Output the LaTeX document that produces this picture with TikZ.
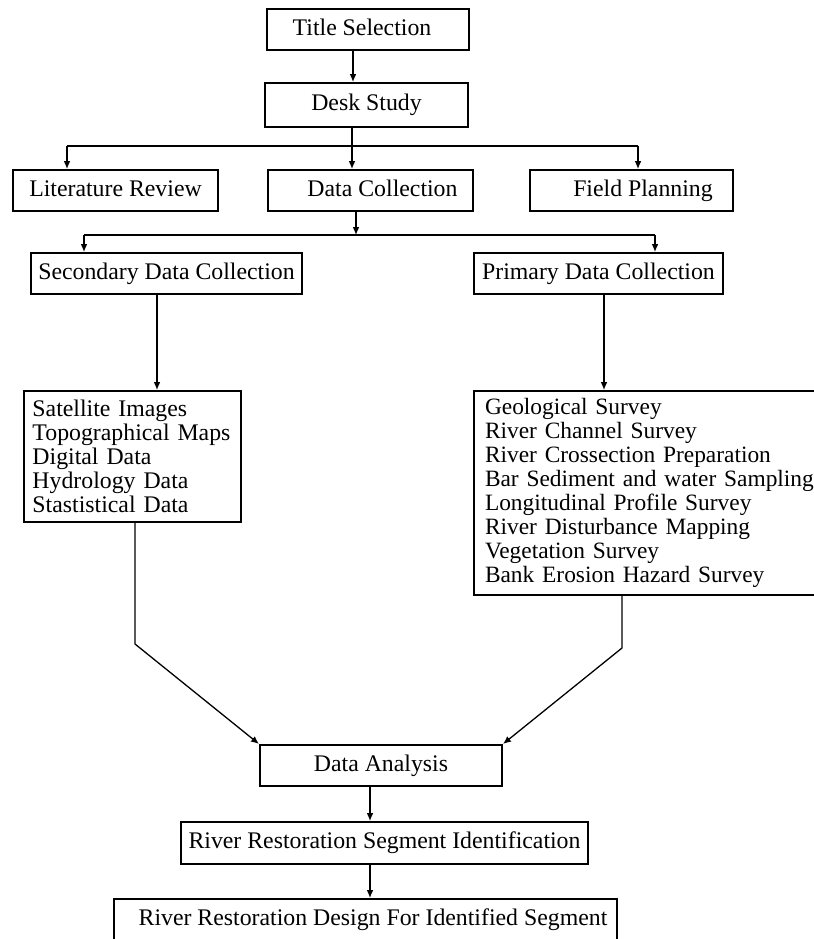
\documentclass[tikz,border=0pt]{standalone}
\usepackage{fontspec}
\setmainfont{Liberation Serif}
\usetikzlibrary{shapes,arrows.meta}

\tikzset{
  box/.style={draw, rectangle, line width=1pt, inner sep=0pt,
    font=\fontsize{11.9pt}{12.05pt}\selectfont},
  stage/.style={box, text height=8.2pt, text depth=2.6pt},
  listbox/.style={box, anchor=north west, align=left},
  arr/.style={-{Latex[length=4pt,width=3.4pt]}, line width=0.65pt},
  link/.style={line width=0.65pt}
}

\begin{document}
\begin{tikzpicture}[x=0.5pt, y=-0.5pt] % one unit = one pixel of the scan
\useasboundingbox (0,0) rectangle (814,939);
\clip (0,0) rectangle (814,939);

% top of the chart
\node[stage, minimum width=101pt, minimum height=20.5pt] (title) at (368,29.5) {Title Selection\hspace*{6pt}};
\node[stage, minimum width=101.5pt, minimum height=22pt] (desk) at (366.5,105) {Desk Study};
\node[stage, minimum width=102.5pt, minimum height=20.5pt] (lit) at (115.5,190.5) {Literature Review};
\node[stage, minimum width=102.5pt, minimum height=20.5pt] (data) at (370.5,190.5) {\hspace*{12pt}Data Collection};
\node[stage, minimum width=101.5pt, minimum height=20.5pt] (field) at (631.5,190.5) {\hspace*{11.5pt}Field Planning};
\node[stage, minimum width=135.5pt, minimum height=20.5pt] (secondary) at (166.5,273.5) {Secondary Data Collection};
\node[stage, minimum width=124.5pt, minimum height=20.5pt] (primary) at (598.5,273.5) {Primary Data Collection};

% lists
\node[listbox, text width=100pt, inner xsep=4.25pt, minimum height=65.5pt] (seclist) at (23,390)
  {Satellite Images\\ Topographical Maps\\ Digital Data\\ Hydrology Data\\ Stastistical Data};
\node[listbox, text width=180pt, inner xsep=5.5pt, minimum height=102pt,
      font=\fontsize{11.7pt}{12.05pt}\selectfont] (primlist) at (473,390)
  {Geological Survey\\ River Channel Survey\\ River Crossection Preparation\\
   Bar Sediment and water Sampling\\ Longitudinal Profile Survey\\
   River Disturbance Mapping\\ Vegetation Survey\\ Bank Erosion Hazard Survey};

% bottom of the chart
\node[stage, minimum width=121pt, minimum height=20.5pt] (analysis) at (381,765.5) {Data Analysis};
\node[stage, minimum width=203.5pt, minimum height=21pt] (segid) at (384.5,843) {River Restoration Segment Identification};
\node[stage, minimum width=251.5pt, minimum height=21pt] (design) at (365.5,920) {\hspace*{7.5pt}River Restoration Design For Identified Segment};

% branch points
\coordinate (fork1) at (352,146);
\coordinate (fork1l) at (67,146);
\coordinate (fork1r) at (638,146);
\coordinate (fork2) at (356,235);
\coordinate (fork2l) at (84,235);
\coordinate (fork2r) at (655,235);
\coordinate (bendl) at (135,644);
\coordinate (bendr) at (622,648);
\coordinate (spine) at (370,800);

\draw[arr] ([xshift=-7.5pt]title.south) -- ([xshift=-7.5pt]title.south |- desk.north);
\draw[arr] (desk.south -| fork1) -- (data.north -| fork1);
\draw[link] (fork1l) -- (fork1r);
\draw[arr] (fork1l) -- (fork1l |- lit.north);
\draw[arr] (fork1r) -- (fork1r |- field.north);

\draw[arr] (data.south -| fork2) -- (fork2);
\draw[link] (fork2l) -- (fork2r);
\draw[arr] (fork2l) -- (fork2l |- secondary.north);
\draw[arr] (fork2r) -- (fork2r |- primary.north);

\draw[arr] ([xshift=-4.75pt]secondary.south) -- ([xshift=-4.75pt]secondary.south |- seclist.north);
\draw[arr] ([xshift=2.75pt]primary.south) -- ([xshift=2.75pt]primary.south |- primlist.north);

\draw[arr] (seclist.south -| bendl) -- (bendl) -- (analysis.north west);
\draw[arr] (primlist.south -| bendr) -- (bendr) -- (analysis.north east);

\draw[arr] (analysis.south -| spine) -- (segid.north -| spine);
\draw[arr] (segid.south -| spine) -- (design.north -| spine);
\end{tikzpicture}
\end{document}
